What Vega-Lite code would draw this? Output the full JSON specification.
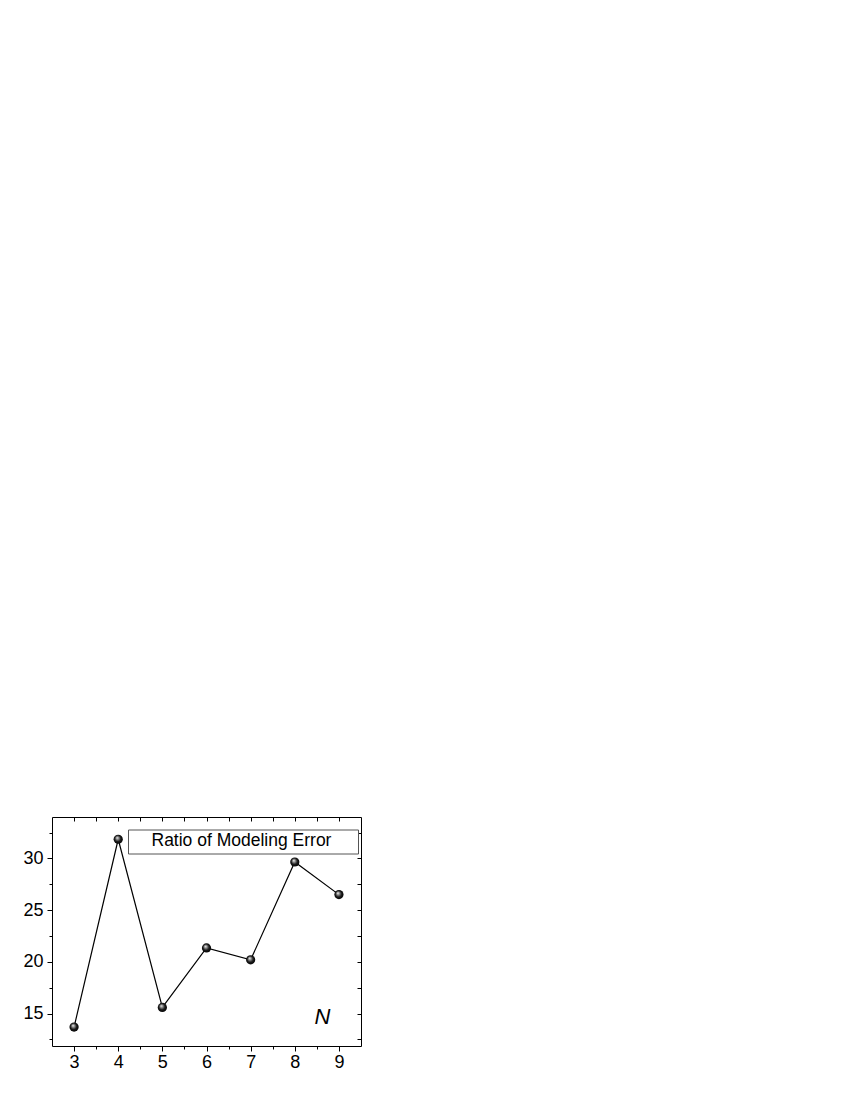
{
  "$schema": "https://vega.github.io/schema/vega-lite/v6.json",
  "width": 309,
  "height": 229,
  "autosize": {"type": "none"},
  "padding": {"left": 52, "top": 817, "right": 489, "bottom": 54},
  "background": "white",
  "config": {
    "view": {"stroke": "black", "strokeWidth": 1},
    "font": "Liberation Sans",
    "axis": {"grid": false, "domain": false, "tickColor": "black", "tickWidth": 1, "labelColor": "black", "labelFontSize": 18, "labelFont": "Liberation Sans", "title": null}
  },
  "data": {"values": [
    {"N": 3, "ratio": 13.7},
    {"N": 4, "ratio": 31.85},
    {"N": 5, "ratio": 15.6},
    {"N": 6, "ratio": 21.35},
    {"N": 7, "ratio": 20.2},
    {"N": 8, "ratio": 29.65},
    {"N": 9, "ratio": 26.5}
  ]},
  "layer": [
    {
      "mark": {"type": "line", "strokeWidth": 1.2},
      "encoding": {
        "x": {"field": "N", "type": "quantitative", "scale": {"domain": [2.5, 9.5], "nice": false, "zero": false},
          "axis": {"orient": "bottom", "values": [3, 4, 5, 6, 7, 8, 9], "tickSize": 5, "labelPadding": 2,
            "title": "N", "titleFont": "Liberation Sans", "titleFontStyle": "italic", "titleFontWeight": "normal", "titleFontSize": 22,
            "titleX": 270, "titleY": -30, "titleBaseline": "middle", "titleAlign": "center", "titleColor": "black"}},
        "y": {"field": "ratio", "type": "quantitative", "scale": {"domain": [11.87, 34], "nice": false, "zero": false},
          "axis": {"orient": "left", "values": [15, 20, 25, 30], "tickSize": 5, "labelPadding": 4}},
        "color": {"datum": "Ratio of Modeling Error", "scale": {"range": ["black"]},
          "legend": {"orient": "none", "legendX": 76, "legendY": 12.5, "title": null, "strokeColor": "#555", "fillColor": "white",
            "padding": 3, "symbolType": "circle", "symbolSize": 1, "symbolOpacity": 0, "symbolStrokeWidth": 0, "symbolOffset": 214,
            "labelOffset": -211, "labelLimit": 400,
            "labelFontSize": 17.5, "labelFont": "Liberation Sans", "labelColor": "black"}}
      }
    },
    {
      "mark": {"type": "point", "filled": true, "size": 85, "opacity": 1, "strokeWidth": 0,
        "fill": {"gradient": "radial", "x1": 0.38, "y1": 0.32, "r1": 0, "x2": 0.5, "y2": 0.5, "r2": 0.55,
          "stops": [{"offset": 0, "color": "#ffffff"}, {"offset": 0.25, "color": "#9a9a9a"}, {"offset": 0.6, "color": "#1a1a1a"}, {"offset": 1, "color": "#000000"}]}},
      "encoding": {
        "x": {"field": "N", "type": "quantitative",
          "axis": {"orient": "bottom", "values": [3.5, 4.5, 5.5, 6.5, 7.5, 8.5], "tickSize": 3, "labels": false}},
        "y": {"field": "ratio", "type": "quantitative",
          "axis": {"orient": "left", "values": [12.5, 17.5, 22.5, 27.5, 32.5], "tickSize": 3, "labels": false}}
      }
    },
    {
      "mark": {"type": "point", "opacity": 0},
      "encoding": {
        "x": {"field": "N", "type": "quantitative",
          "axis": {"orient": "top", "values": [3, 3.5, 4, 4.5, 5, 5.5, 6, 6.5, 7, 7.5, 8, 8.5, 9], "tickSize": -4, "labels": false}},
        "y": {"field": "ratio", "type": "quantitative",
          "axis": {"orient": "right", "values": [12.5, 15, 17.5, 20, 22.5, 25, 27.5, 30, 32.5], "tickSize": -4, "labels": false}}
      }
    }
  ],
  "resolve": {"axis": {"x": "independent", "y": "independent"}}
}
